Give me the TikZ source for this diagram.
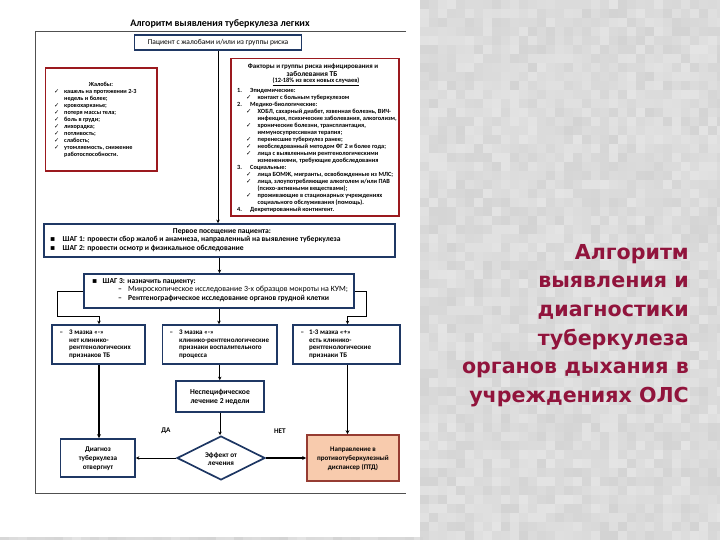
\documentclass[tikz,border=0pt]{standalone}
\usepackage{fontspec}
\setmainfont{Carlito}
\newfontfamily\dvs{DejaVu Sans}
\usetikzlibrary{shapes.geometric,arrows.meta}
\definecolor{navy}{RGB}{31,56,100}
\definecolor{dred}{RGB}{155,25,30}
\definecolor{peach}{RGB}{248,203,173}
\definecolor{brownred}{RGB}{150,60,50}
\definecolor{ttlred}{RGB}{145,20,60}
\definecolor{bgray}{RGB}{228,228,228}
\definecolor{framegray}{RGB}{80,80,80}
\newcommand\ck{{\dvs ✓}}
\newcommand\sqb{{\dvs ▪}}
\newcommand\rnum[2]{\makebox[13pt][l]{#1}#2}
\newcommand\rchk[1]{\hspace*{9pt}\makebox[11.5pt][l]{\ck}#1}
\newcommand\rcont[1]{\hspace*{20.5pt}#1}
\newcommand\cchk[1]{\makebox[10pt][l]{\ck}#1}
\newcommand\ccont[1]{\hspace*{10pt}#1}
\tikzset{
  bluebox/.style={draw=navy, line width=1.7pt, fill=white, inner sep=0pt},
  redbox/.style={draw=dred, line width=1.7pt, fill=white, inner sep=0pt},
  txt/.style={inner sep=0pt, align=left, text=black},
  ctxt/.style={inner sep=0pt, align=center, text=black},
  conn/.style={draw=black, line width=0.9pt},
  thick conn/.style={draw=black, line width=1.6pt},
  arr/.style={conn, -{Stealth[length=3.5pt,width=3.5pt]}},
  thick arr/.style={thick conn, -{Stealth[length=4pt,width=4pt]}},
}
\begin{document}
\begin{tikzpicture}[x=1pt,y=-1pt]
\useasboundingbox (0,0) rectangle (720,540);
% background with mottled texture
\fill[bgray] (0,0) rectangle (720,540);
\pgfmathsetseed{7}
\foreach \i in {0,...,33}{
  \foreach \j in {0,...,59}{
    \pgfmathsetmacro\op{0.07*rnd}
    \fill[black, opacity=\op] (420+9*\i,9*\j) rectangle ++(9,9);
  }
}
\foreach \i in {0,...,46}{
  \pgfmathsetmacro\op{0.07*rnd}
  \fill[black, opacity=\op] (9*\i,537) rectangle ++(9,3);
}
\fill[white] (0,0) rectangle (420,537);
% outer frame
\draw[framegray, line width=0.8pt] (406,31) -- (35,31) -- (35,493) -- (406,493);
% title
\node[ctxt, font=\bfseries\fontsize{10}{11}\selectfont] (title) at (220,24) {Алгоритм выявления туберкулеза легких};

% boxes
\node[bluebox, minimum width=167pt, minimum height=15pt] (top) at (218,42.5) {};
\node[ctxt, font=\fontsize{7.5}{8}\selectfont] (toptxt) at (218,42.5) {Пациент с жалобами и/или из группы риска};

\node[redbox, minimum width=111.5pt, minimum height=103pt] (compl) at (101.25,119.5) {};
\node[ctxt, font=\bfseries\fontsize{6.2}{7}\selectfont] (compltitle) at (101,84.5) {Жалобы:};
\node[txt, anchor=north west, font=\bfseries\fontsize{6.2}{7.05}\selectfont] (compltxt) at (54,89) {%
\cchk{кашель на протяжении 2-3}\\
\ccont{недель и более;}\\
\cchk{кровохарканье;}\\
\cchk{потеря массы тела;}\\
\cchk{боль в груди;}\\
\cchk{лихорадка;}\\
\cchk{потливость;}\\
\cchk{слабость;}\\
\cchk{утомляемость, снижение}\\
\ccont{работоспособности.}};

\node[redbox, minimum width=168pt, minimum height=157.5pt] (risk) at (315,137.25) {};
\node[ctxt, font=\bfseries\fontsize{6.9}{7}\selectfont] (riskt1) at (313,66.5) {Факторы и группы риска инфицирования и};
\node[ctxt, font=\bfseries\fontsize{7.4}{7}\selectfont] (riskt2) at (312,74) {заболевания ТБ};
\node[ctxt, font=\bfseries\fontsize{6.4}{7}\selectfont] (riskt3) at (316,82) {\underline{(12-18\% из всех новых случаев)}};
\node[txt, anchor=north west, font=\bfseries\fontsize{6.3}{6.98}\selectfont] (risktxt) at (237,88.1) {%
\rnum{1.}{Эпидемические:}\\
\rchk{контакт с больным туберкулезом}\\
\rnum{2.}{Медико-биологические:}\\
\rchk{ХОБЛ, сахарный диабет, язвенная болезнь, ВИЧ-}\\
\rcont{инфекция, психические заболевания, алкоголизм,}\\
\rchk{хронические болезни, трансплантация,}\\
\rcont{иммуносупрессивная терапия;}\\
\rchk{перенесшие туберкулез ранее;}\\
\rchk{необследованный методом ФГ 2 и более года;}\\
\rchk{лица с выявленными рентгенологическими}\\
\rcont{изменениями, требующие дообследования}\\
\rnum{3.}{Социальные:}\\
\rchk{лица БОМЖ, мигранты, освобожденные из МЛС;}\\
\rchk{лица, злоупотребляющие алкоголем и/или ПАВ}\\
\rcont{(психо-активными веществами);}\\
\rchk{проживающие в стационарных учреждениях}\\
\rcont{социального обслуживания (помощь).}\\
\rnum{4.}{Декретированный контингент.}};

\node[bluebox, minimum width=351pt, minimum height=33pt] (step) at (219.5,240.5) {};
\node[ctxt, font=\bfseries\fontsize{7.6}{8}\selectfont] (steptitle) at (222,231.7) {Первое посещение пациента:};
\node[txt, anchor=north west, font=\bfseries\fontsize{7.6}{9.2}\selectfont] (steptxt) at (50,235.7) {%
\makebox[12.5pt][l]{\sqb}ШАГ 1: провести сбор жалоб и анамнеза, направленный на выявление туберкулеза\\
\makebox[12.5pt][l]{\sqb}ШАГ 2: провести осмотр и физикальное обследование};

\node[bluebox, minimum width=270pt, minimum height=34pt] (step3) at (219,291) {};
\node[txt, anchor=north west, font=\bfseries\fontsize{7.6}{8.5}\selectfont] (step3txt) at (92,278.3) {%
\makebox[10.5pt][l]{\sqb}ШАГ 3: назначить пациенту:\\
\hspace*{26pt}\makebox[10pt][l]{–}{\mdseries\fontsize{7.9}{8.5}\selectfont Микроскопическое исследование 3-х образцов мокроты на КУМ;}\\
\hspace*{26pt}\makebox[10pt][l]{–}Рентгенографическое исследование органов грудной клетки};

\node[bluebox, minimum width=93pt, minimum height=39pt] (b1) at (98.5,344.5) {};
\node[bluebox, minimum width=114.5pt, minimum height=39pt] (b2) at (219.75,344.5) {};
\node[bluebox, minimum width=107pt, minimum height=39pt] (b3) at (346.5,344.5) {};
\node[txt, anchor=north west, font=\bfseries\fontsize{7}{7.7}\selectfont] (b1txt) at (59.5,329.6) {%
\makebox[9.5pt][l]{–}3 мазка «-»\\
\hspace*{9.5pt}нет клинико-\\
\hspace*{9.5pt}рентгенологических\\
\hspace*{9.5pt}признаков ТБ};
\node[txt, anchor=north west, font=\bfseries\fontsize{7}{7.7}\selectfont] (b2txt) at (169.5,329.6) {%
\makebox[9.5pt][l]{–}3 мазка «-»\\
\hspace*{9.5pt}клинико-рентгенологические\\
\hspace*{9.5pt}признаки воспалительного\\
\hspace*{9.5pt}процесса};
\node[txt, anchor=north west, font=\bfseries\fontsize{7}{7.7}\selectfont] (b3txt) at (300.5,329.6) {%
\makebox[8.5pt][l]{–}1-3 мазка «+»\\
\hspace*{8.5pt}есть клинико-\\
\hspace*{8.5pt}рентгенологические\\
\hspace*{8.5pt}признаки ТБ};

\node[bluebox, minimum width=88pt, minimum height=31pt] (nons) at (220,396.5) {};
\node[ctxt, font=\bfseries\fontsize{7.6}{8.7}\selectfont] (nonstxt) at (220,397.3) {Неспецифическое\\лечение 2 недели};

\node[diamond, draw=navy, line width=1.7pt, fill=white, aspect=2, minimum width=88pt, minimum height=44pt, inner sep=0pt] (eff) at (221,458) {};
\node[ctxt, font=\bfseries\fontsize{7.2}{8.3}\selectfont] (efftxt) at (221,459) {Эффект от\\лечения};

\node[bluebox, minimum width=74.5pt, minimum height=38pt] (lb) at (97.75,458) {};
\node[ctxt, font=\bfseries\fontsize{7.2}{9}\selectfont] (lbtxt) at (98,459) {Диагноз\\туберкулеза\\отвергнут};

\node[draw=brownred, line width=1.7pt, fill=peach, inner sep=0pt, minimum width=92pt, minimum height=46pt] (rb) at (353,458) {};
\node[ctxt, font=\bfseries\fontsize{7}{9}\selectfont] (rbtxt) at (353,459) {Направление в\\противотуберкулезный\\диспансер (ПТД)};

\node[ctxt, font=\bfseries\fontsize{7.2}{8}\selectfont] (da) at (166,431) {ДА};
\node[ctxt, font=\bfseries\fontsize{7.2}{8}\selectfont] (net) at (280,431) {НЕТ};

% connectors
\draw[arr] (top.south) -- (top.south |- step.north);
\draw[arr] (step.south) -- (step.south |- step3.north);
\draw[arr] (step3.south) -- (step3.south |- b2.north);
\coordinate (lc1) at (57,291);
\coordinate (lc2) at (57,316);
\coordinate (lc3) at (99,316);
\draw[arr] (step3.west) -- (lc1) -- (lc2) -- (lc3) -- (lc3 |- b1.north);
\coordinate (rc1) at (366,291);
\coordinate (rc2) at (366,316);
\coordinate (rc3) at (347.5,316);
\draw[arr] (step3.east) -- (rc1) -- (rc2) -- (rc3) -- (rc3 |- b3.north);
\coordinate (l1) at (99,364);
\draw[thick arr] (l1 |- b1.south) -- (l1 |- lb.north);
\coordinate (r1) at (347.5,364);
\draw[thick arr] (r1 |- b3.south) -- (r1 |- rb.north);
\draw[arr] (b2.south) -- (b2.south |- nons.north);
\draw[arr] (nons.south) -- (nons.south |- eff.north);
\draw[arr] (eff.west) -- (lb.east);
\draw[thick arr] (eff.east) -- (rb.west);

% right title
\node[inner sep=0pt, align=right, anchor=north east, text=ttlred, font=\dvs\bfseries\fontsize{20.6}{28.6}\selectfont] (rtitle) at (689,244) {Алгоритм\\выявления и\\диагностики\\туберкулеза\\органов дыхания в\\учреждениях ОЛС};
\end{tikzpicture}
\end{document}
